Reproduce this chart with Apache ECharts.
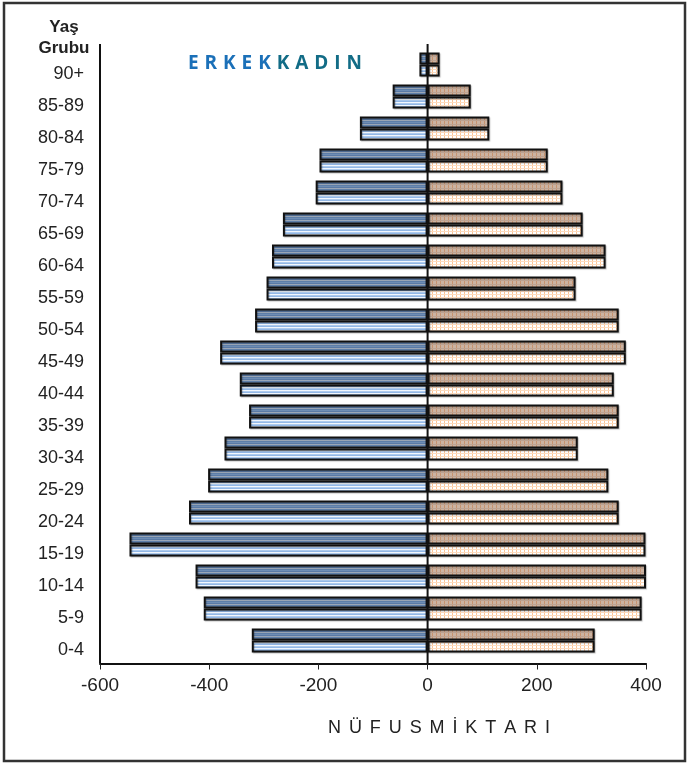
<!DOCTYPE html>
<html><head><meta charset="utf-8">
<script src="https://cdn.jsdelivr.net/npm/echarts@6/dist/echarts.min.js"></script>
<style>html,body{margin:0;padding:0;background:#fff}#c{width:689px;height:766px}</style>
</head><body><div id="c"></div>
<script>
// ---- data ----
const categories = ['0-4','5-9','10-14','15-19','20-24','25-29','30-34','35-39','40-44','45-49','50-54','55-59','60-64','65-69','70-74','75-79','80-84','85-89','90+'];
const maleValues = [-322,-410,-425,-546,-437,-402,-372,-327,-344,-380,-316,-295,-285,-265,-205,-198,-124,-64,-15];
const femaleValues = [306,392,400,399,350,331,275,350,341,363,350,271,326,284,247,220,113,79,22];
const xAxisMin = -600, xAxisMax = 400, xAxisStep = 200;
const yAxisTitle = ['Yaş','Grubu'];
const legendMale = 'ERKEK', legendFemale = 'KADIN';
const xAxisTitle = 'NÜFUSMİKTARI';

// ---- pattern tiles ----
function tile(w, h, draw){const c=document.createElement('canvas');c.width=w;c.height=h;const g=c.getContext('2d');draw(g,w,h);return {image:c,repeat:'repeat'};}
const maleDark = tile(1,4,(g)=>{const r=['#9aa6b6','#5d7ea8','#6e8db4','#5a7aa5'];r.forEach((col,i)=>{g.fillStyle=col;g.fillRect(0,i,1,1);});});
const maleLight = tile(1,3,(g)=>{const r=['#f2f7fd','#aecbee','#93b8e6'];r.forEach((col,i)=>{g.fillStyle=col;g.fillRect(0,i,1,1);});});
const femDark = tile(4,4,(g,w,h)=>{g.fillStyle='#cbb3a2';g.fillRect(0,0,w,h);g.fillStyle='#c7936f';g.fillRect(0,0,1,h);g.fillStyle='#bea392';g.fillRect(0,0,w,1);});
const femLight = tile(4,3,(g,w,h)=>{g.fillStyle='#ffffff';g.fillRect(0,0,w,h);g.fillStyle='#fcc495';g.fillRect(0,0,1,h);g.fillStyle='#fddcc0';g.fillRect(0,0,w,1);});

const chart = echarts.init(document.getElementById('c'));
const border = {borderColor:'#111', borderWidth:2};
function bar(name, data, stack, color){
  return {name, type:'bar', data, stack, barWidth:12, barGap:'0%',
    itemStyle:Object.assign({color, shadowColor:'rgba(0,0,0,0.25)', shadowOffsetX:1, shadowOffsetY:1, shadowBlur:1}, border), silent:true, animation:false};
}
const series = [
  bar('ERKEK-a', maleValues, 'a', maleDark),
  bar('ERKEK-b', maleValues, 'b', maleLight),
  bar('KADIN-a', femaleValues, 'a', femDark),
  bar('KADIN-b', femaleValues, 'b', femLight)
];
const gridTop = 48.5, gridBottom = 109.5, gridLeft = 100, gridRight = 43;
chart.setOption({
  animation:false,
  grid:{left:gridLeft, right:gridRight, top:gridTop, bottom:gridBottom, containLabel:false},
  xAxis:{type:'value', min:xAxisMin, max:xAxisMax, interval:xAxisStep, offset:7,
    axisLine:{show:true, onZero:false, lineStyle:{color:'#111', width:2}},
    axisTick:{show:true, length:6, lineStyle:{color:'#222', width:1}},
    splitLine:{show:false},
    axisLabel:{fontFamily:'Liberation Sans', fontSize:19, color:'#222', margin:13}},
  yAxis:{type:'category', data:categories,
    axisLine:{show:false}, axisTick:{show:false}, splitLine:{show:false},
    axisLabel:{fontFamily:'Liberation Sans', fontSize:18, color:'#222', margin:16, verticalAlign:'top', lineHeight:19}},
  series
});

// ---- decorations: axis lines, titles, frame ----
const x0 = chart.convertToPixel({xAxisIndex:0}, 0);
const xLeft = chart.convertToPixel({xAxisIndex:0}, xAxisMin);
const axisTopY = 44, axisBotY = 766 - gridBottom + 7;
const graphics = [
  {type:'rect', shape:{x:4, y:3, width:681, height:758}, style:{fill:'none', stroke:'#333', lineWidth:2.5}, silent:true},
  {type:'line', shape:{x1:xLeft, y1:axisTopY, x2:xLeft, y2:axisBotY}, style:{stroke:'#111', lineWidth:2}, silent:true, z:10},
  {type:'line', shape:{x1:x0, y1:axisTopY, x2:x0, y2:axisBotY}, style:{stroke:'#111', lineWidth:2}, silent:true, z:10},
  {type:'text', style:{text:yAxisTitle[0], x:64, y:27, align:'center', verticalAlign:'middle', font:'bold 17px "Liberation Sans"', fill:'#222'}},
  {type:'text', style:{text:yAxisTitle[1], x:64, y:48, align:'center', verticalAlign:'middle', font:'bold 17px "Liberation Sans"', fill:'#222'}}
];
const meas = document.createElement('canvas').getContext('2d');
function spaced(text, font, x1, x2, y, colorFn){
  meas.font = font;
  const chars = Array.from(text);
  const widths = chars.map(c=>meas.measureText(c).width);
  const total = widths.reduce((a,b)=>a+b,0);
  const gap = (x2 - x1 - total)/(chars.length-1);
  let x = x1;
  chars.forEach((c,i)=>{
    graphics.push({type:'text', style:{text:c, x:x, y:y, align:'left', verticalAlign:'middle', font, fill:colorFn(i)}});
    x += widths[i] + gap;
  });
}
spaced(legendMale+legendFemale, 'bold 19px "Open Sans"', 188, 362, 64, i => i < legendMale.length ? '#1b70b8' : '#126c86');
spaced(xAxisTitle, '18px "Liberation Sans"', 328, 550, 728, () => '#222');
chart.setOption({graphic:graphics});
</script></body></html>
